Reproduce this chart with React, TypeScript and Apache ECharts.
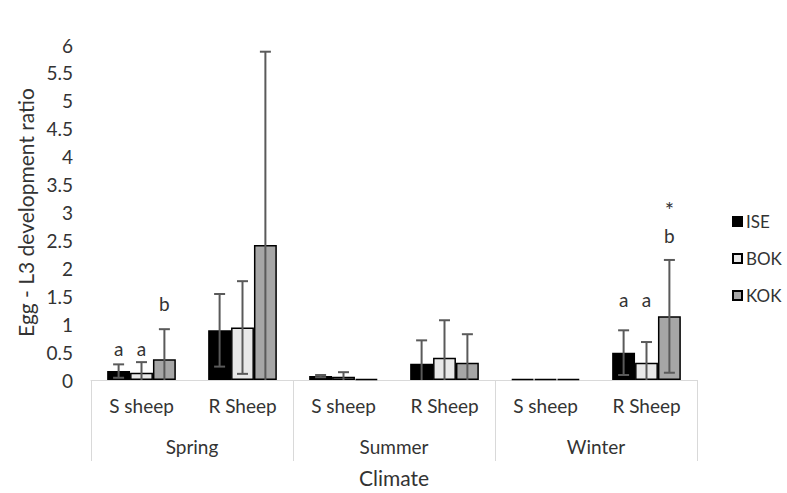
import React, { useEffect, useRef } from "react";
import * as echarts from "echarts";

const categories = ["S sheep", "R Sheep", "S sheep", "R Sheep", "S sheep", "R Sheep"];
const groups = ["Spring", "Summer", "Winter"];
const seriesNames = ["ISE", "BOK", "KOK"];
const seriesColors = ["#000000", "#e8e8e8", "#a6a6a6"];

const iseValues = [0.16, 0.89, 0.07, 0.29, 0.02, 0.49];
const bokValues = [0.13, 0.94, 0.06, 0.4, 0.02, 0.31];
const kokValues = [0.37, 2.42, 0.02, 0.31, 0.02, 1.14];

const iseErrors = [0.12, 0.65, 0.02, 0.42, 0, 0.4];
const bokErrors = [0.19, 0.83, 0.08, 0.67, 0, 0.37];
const kokErrors = [0.54, 3.46, 0, 0.51, 0, 1.01];

const yTicks = { min: 0, max: 6, interval: 0.5 };

// significance annotations
const annotCategory = [0, 0, 0, 5, 5, 5, 5];
const annotSeries = [0, 1, 2, 0, 1, 2, 2];
const annotText = ["a", "a", "b", "a", "a", "b", "*"];
const annotLevel = [0.57, 0.57, 1.37, 1.44, 1.44, 2.59, 3.05];

const values = [iseValues, bokValues, kokValues];
const errors = [iseErrors, bokErrors, kokErrors];

const FONT = "Lato";
const TXT = "#333333";
const CAT_GAP = 0.32;

export default function App() {
  const ref = useRef<HTMLDivElement>(null);
  useEffect(() => {
    if (!ref.current) return;
    const chart = echarts.init(ref.current, null, { renderer: "svg" });

    const errData: number[][] = [];
    values.forEach((vals, s) => {
      vals.forEach((v, i) => {
        errData.push([i, v, errors[s][i], s]);
      });
    });
    const annData = annotLevel.map((y, i) => [annotCategory[i], y, annotSeries[i]]);

    const barOffset = (api: any, idx: number, s: number) => {
      const center = api.coord([idx, 0])[0];
      const band = api.size([1, 0])[0];
      const bw = (band * (1 - CAT_GAP)) / 3;
      return { x: center + (s - 1) * bw, bw };
    };

    chart.setOption({
      animation: false,
      textStyle: { fontFamily: FONT, color: TXT },
      legend: {
        orient: "vertical",
        left: 732,
        top: 213,
        padding: 0,
        itemWidth: 9,
        itemHeight: 9,
        itemGap: 20,
        icon: "rect",
        data: seriesNames,
        textStyle: { fontFamily: FONT, fontSize: 17, color: TXT, padding: [0, 0, 0, -1] },
      },
      grid: { left: 91, right: 90, top: 45, bottom: 109 },
      xAxis: [
        {
          type: "category",
          data: categories,
          axisLine: { show: true, lineStyle: { color: "#d9d9d9", width: 1 } },
          axisTick: { show: false },
          axisLabel: { margin: 16, fontSize: 19, color: TXT, fontFamily: FONT, interval: 0 },
        },
        {
          type: "category",
          data: groups,
          position: "bottom",
          axisLine: { show: false },
          axisTick: { show: true, length: 81, interval: 0, lineStyle: { color: "#d9d9d9", width: 1 } },
          axisLabel: { margin: 57, fontSize: 19, color: TXT, fontFamily: FONT, interval: 0 },
          name: "Climate",
          nameLocation: "middle",
          nameGap: 87,
          nameTextStyle: { fontSize: 21, color: TXT, fontFamily: FONT },
        },
      ],
      yAxis: {
        type: "value",
        min: yTicks.min,
        max: yTicks.max,
        interval: yTicks.interval,
        axisLine: { show: false },
        axisTick: { show: false },
        splitLine: { show: false },
        axisLabel: { margin: 18, fontSize: 19, color: TXT, fontFamily: FONT },
        name: "Egg - L3 development ratio",
        nameLocation: "middle",
        nameGap: 54,
        nameTextStyle: { fontSize: 21, color: TXT, fontFamily: FONT },
      },
      series: [
        ...seriesNames.map((name, s) => ({
          name,
          type: "bar",
          data: values[s],
          barGap: "0%",
          barCategoryGap: "32%",
          itemStyle: { color: seriesColors[s], borderColor: "#000000", borderWidth: 1.5 },
        })),
        {
          type: "custom",
          name: "errors",
          data: errData,
          encode: { x: 0, y: 1 },
          z: 5,
          silent: true,
          renderItem: (params: any, api: any) => {
            const idx = api.value(0);
            const v = api.value(1);
            const e = api.value(2);
            const s = api.value(3);
            if (!e) return null;
            const { x } = barOffset(api, idx, s);
            const yTop = api.coord([idx, v + e])[1];
            const low = v - e;
            const yBot = api.coord([idx, Math.max(0, low)])[1];
            const cap = 5.5;
            const st = { stroke: "#5a5a5a", lineWidth: 2 };
            const children: any[] = [
              { type: "line", shape: { x1: x, y1: yTop, x2: x, y2: yBot }, style: st },
              { type: "line", shape: { x1: x - cap, y1: yTop, x2: x + cap, y2: yTop }, style: st },
            ];
            if (low > 0) {
              children.push({ type: "line", shape: { x1: x - cap, y1: yBot, x2: x + cap, y2: yBot }, style: st });
            }
            return { type: "group", children };
          },
        },
        {
          type: "custom",
          name: "annotations",
          data: annData,
          encode: { x: 0, y: 1 },
          z: 6,
          silent: true,
          renderItem: (params: any, api: any) => {
            const idx = api.value(0);
            const lvl = api.value(1);
            const s = api.value(2);
            const { x } = barOffset(api, idx, s);
            const y = api.coord([idx, lvl])[1];
            const t = annotText[params.dataIndex];
            const size = t === "*" ? 22 : 19;
            return {
              type: "text",
              x,
              y,
              style: {
                text: t,
                fill: TXT,
                font: `${size}px ${FONT}`,
                textAlign: "center",
                textVerticalAlign: "middle",
                align: "center",
                verticalAlign: "middle",
              },
            };
          },
        },
      ],
    });
    return () => chart.dispose();
  }, []);
  return (
    <div
      ref={ref}
      style={{ position: "fixed", left: 0, top: 0, width: 787, height: 493, background: "#ffffff" }}
    />
  );
}
